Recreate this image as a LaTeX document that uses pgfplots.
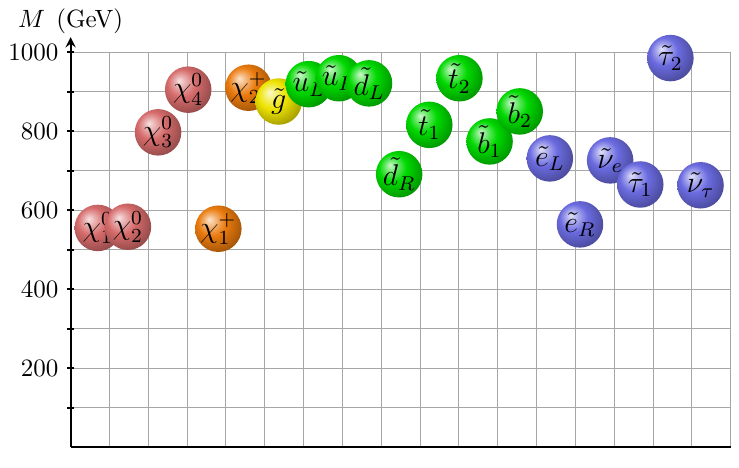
\documentclass[border=0pt]{standalone}
\usepackage{pgfplots}
\pgfplotsset{compat=1.18}
\definecolor{neut}{rgb}{0.84,0.42,0.42}
\definecolor{slep}{rgb}{0.42,0.42,0.88}
\definecolor{squark}{rgb}{0.0,0.85,0.0}
\definecolor{charg}{rgb}{0.92,0.48,0.05}
\definecolor{gluino}{rgb}{0.93,0.89,0.0}
\colorlet{ballcol}{red}
\pgfdeclareradialshading[ballcol]{myballsh}{\pgfqpoint{-10bp}{10bp}}{%
  color(0bp)=(ballcol!20!white);
  color(7bp)=(ballcol!60!white);
  color(15bp)=(ballcol);
  color(25bp)=(ballcol!80!black);
  color(35bp)=(ballcol!60!black);
  color(50bp)=(ballcol!50!black)}
\pgfdeclareplotmark{myball}{%
  \pgfpathcircle{\pgfpointorigin}{\pgfplotmarksize}%
  \pgfshadepath{myballsh}{0}%
  \pgfusepath{discard}}
\pgfplotsset{
  particle/.style={only marks, mark=myball, mark size=9.3pt,
    mark options={/utils/exec={\colorlet{ballcol}{#1}}},
    nodes near coords, point meta=explicit symbolic,
    every node near coord/.append style={anchor=center, inner sep=0pt, text=black, font=\large}},
}
\begin{document}
\begin{tikzpicture}
\begin{axis}[
  scale only axis, width=264pt, height=158pt,
  xmin=0.1, xmax=22, ymin=0, ymax=1000,
  axis y line=left, axis x line*=bottom,
  axis line style={thick},
  y axis line style={shorten >=-6pt},
  xtick={0.1,1.388,2.676,3.965,5.253,6.541,7.829,9.118,10.406,11.694,12.982,14.271,15.559,16.847,18.135,19.424,20.712,22.0},
  xticklabels={}, xtick style={draw=none},
  ytick={200,400,600,800,1000}, minor ytick={100,300,500,700,900},
  grid=both, major grid style={thin, black!35}, minor grid style={thin, black!35},
  tick align=center, major tick length=2.8pt, minor tick length=2.8pt,
  ytick style={thick, black},
  /pgf/number format/1000 sep={},
  clip=false,
  ylabel={$M$\hspace{0.45em}(GeV)},
  every axis y label/.style={at={(rel axis cs:0,1)}, anchor=south, yshift=4pt},
]
\addplot[particle=neut] coordinates {(1,555) [$\chi^0_1$]};
\addplot[particle=neut] coordinates {(2,558) [$\chi^0_2$]};
\addplot[particle=neut] coordinates {(3,797) [$\chi^0_3$]};
\addplot[particle=neut] coordinates {(4,905) [$\chi^0_4$]};
\addplot[particle=charg] coordinates {(5,553) [$\chi^+_1$]};
\addplot[particle=charg] coordinates {(6,910) [$\chi^+_2$]};
\addplot[particle=gluino] coordinates {(7,875) [$\tilde{g}$]};
\addplot[particle=squark] coordinates {(8,919) [$\tilde{u}_L$]};
\addplot[particle=squark] coordinates {(9,934) [$\tilde{u}_R$]};
\addplot[particle=squark] coordinates {(10,921) [$\tilde{d}_L$]};
\addplot[particle=squark] coordinates {(11,691) [$\tilde{d}_R$]};
\addplot[particle=squark] coordinates {(12,816) [$\tilde{t}_1$]};
\addplot[particle=squark] coordinates {(13,934) [$\tilde{t}_2$]};
\addplot[particle=squark] coordinates {(14,774) [$\tilde{b}_1$]};
\addplot[particle=squark] coordinates {(15,850) [$\tilde{b}_2$]};
\addplot[particle=slep] coordinates {(16,731) [$\tilde{e}_L$]};
\addplot[particle=slep] coordinates {(17,564) [$\tilde{e}_R$]};
\addplot[particle=slep] coordinates {(18,726) [$\tilde{\nu}_e$]};
\addplot[particle=slep] coordinates {(19,665) [$\tilde{\tau}_1$]};
\addplot[particle=slep] coordinates {(20,985) [$\tilde{\tau}_2$]};
\addplot[particle=slep] coordinates {(21,663) [$\tilde{\nu}_\tau$]};
\end{axis}
\end{tikzpicture}
\end{document}
